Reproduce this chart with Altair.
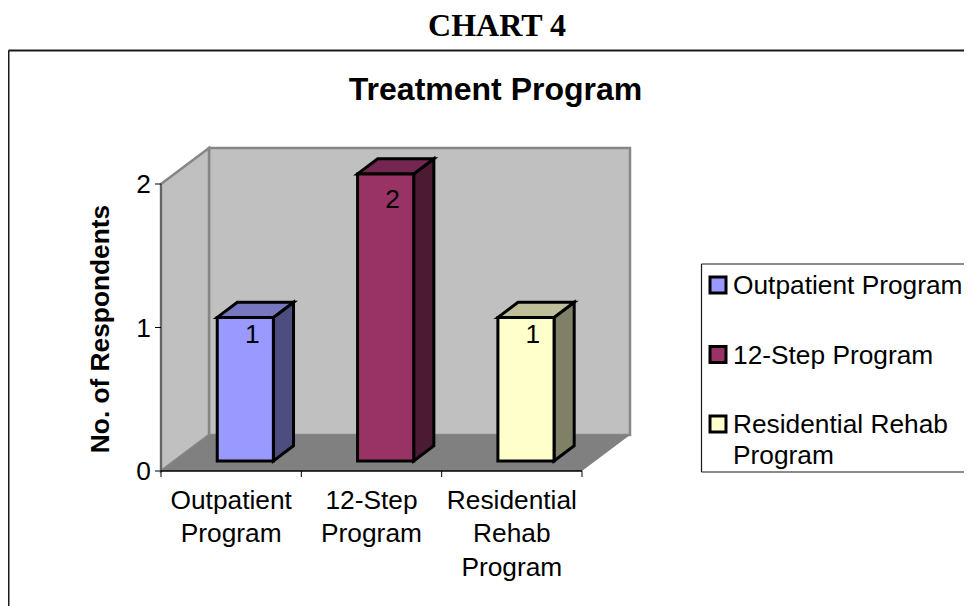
import altair as alt
import pandas as pd

categories = ["Outpatient Program", "12-Step Program", "Residential Rehab Program"]
values = [1, 2, 1]
front_colors = ["#9999FF", "#993366", "#FFFFCC"]
top_colors = ["#7777BF", "#732650", "#BFBF99"]
side_colors = ["#4D4D80", "#4D1A33", "#808066"]
axis_labels = [["Outpatient", "Program"], ["12-Step", "Program"], ["Residential", "Rehab", "Program"]]
legend_labels = [["Outpatient Program"], ["12-Step Program"], ["Residential Rehab", "Program"]]
y_ticks = [0, 1, 2]
main_title = "CHART 4"
chart_title = "Treatment Program"
y_title = "No. of Respondents"

# calibration of the two scales against the page
X0, CAT_W = 161.0, 140.33
Y0, UNIT_H = 471.0, 143.5
DX, DY = 48.0, 36.0
PAGE_R = 964
TEXT_SIZE = 26.3


def xd(px):
    return (px - X0) / CAT_W


def yd(py):
    return (Y0 - py) / UNIT_H


def pj(c, v, d=0.0):
    """category position, value, depth (0 front - 1 back) -> data coordinates"""
    return c + d * DX / CAT_W, v + d * DY / UNIT_H


SX = alt.Scale(domain=[xd(8), xd(PAGE_R)], nice=False, zero=False)
SY = alt.Scale(domain=[yd(606), yd(8)], nice=False, zero=False)
X = alt.X("x:Q", scale=SX, axis=None)
Y = alt.Y("y:Q", scale=SY, axis=None)
X2 = alt.X2("x2:Q")
Y2 = alt.Y2("y2:Q")
FILL = alt.Fill("fill:N", scale=None, legend=None)


def vquads(rows, **mk):
    # rows: list of (shape, fill, [(x, ytop, ybottom), ...])
    data = [dict(shape=s, fill=f, x=x, y=a, y2=b) for s, f, pts in rows for x, a, b in pts]
    return alt.Chart(pd.DataFrame(data)).mark_area(orient="vertical", **mk).encode(
        x=X, y=Y, y2=Y2, fill=FILL, detail="shape:N")


def hquads(rows, **mk):
    # rows: list of (shape, fill, [(y, xleft, xright), ...])
    data = [dict(shape=s, fill=f, y=y, x=a, x2=b) for s, f, pts in rows for y, a, b in pts]
    return alt.Chart(pd.DataFrame(data)).mark_area(orient="horizontal", **mk).encode(
        y=Y, x=X, x2=X2, fill=FILL, detail="shape:N")


def rules(rows, color, width):
    data = [dict(x=a, y=b, x2=c, y2=d) for a, b, c, d in rows]
    return alt.Chart(pd.DataFrame(data)).mark_rule(color=color, strokeWidth=width).encode(
        x=X, y=Y, x2=X2, y2=Y2)


def texts(rows, size, font="Liberation Sans", weight="normal", angle=0, align="center", dy=1):
    data = [dict(x=a, y=b, t=c) for a, b, c in rows]
    return alt.Chart(pd.DataFrame(data)).mark_text(
        fontSize=size, font=font, fontWeight=weight, angle=angle, align=align, dy=dy,
        baseline="middle", color="#000000").encode(x=X, y=Y, text="t:N")


n = len(categories)
vmax = max(y_ticks)

# walls and floor
_, bk_b = pj(0, 0, 1)
_, bk_t = pj(0, vmax, 1)
bk_l, _ = pj(0, 0, 1)
bk_r, _ = pj(n, 0, 1)
walls = vquads(
    [
        ("back", "#C0C0C0", [(bk_l, bk_t, bk_b), (bk_r, bk_t, bk_b)]),
        ("left", "#C0C0C0", [(0, vmax, 0), (bk_l, bk_t, bk_b)]),
    ],
    stroke="#868686", strokeWidth=2.5, strokeJoin="miter",
)
floor = hquads(
    [("floor", "#808080", [(0, 0, n), (pj(0, 0, 1)[1], bk_l, bk_r)])],
)

# bars
BAR_L, BAR_W = 0.305, 0.40
D0, D1 = 0.28, 0.70
sides, fronts, tops = [], [], []
for i, v in enumerate(values):
    cl = i + BAR_L
    cr = cl + BAR_W
    xl, yb = pj(cl, 0, D0)
    xr, yt = pj(cr, v, D0)
    xl2, yb2 = pj(cl, 0, D1)
    xr2, yt2 = pj(cr, v, D1)
    fronts.append((f"f{i}", front_colors[i], [(xl, yt, yb), (xr, yt, yb)]))
    sides.append((f"s{i}", side_colors[i], [(xr, yt, yb), (xr2, yt2, yb2)]))
    tops.append((f"t{i}", top_colors[i], [(yt, xl, xr), (yt2, xl2, xr2)]))
BAR_STYLE = dict(stroke="#000000", strokeWidth=3, strokeJoin="miter")
bars = [vquads(sides, **BAR_STYLE), hquads(tops, **BAR_STYLE), vquads(fronts, **BAR_STYLE)]

# axes
ticks = [(xd(X0 - 6), t, 0, t) for t in y_ticks] + [(i, yd(Y0 + 6), i, 0) for i in range(n + 1)]
axis_marks = rules([(0, 0, n, 0)], "#000000", 1.5)
y_line = rules([(0, 0, 0, vmax)], "#5A5A5A", 1.5)
tick_marks = rules(ticks, "#000000", 1)

ytick_text = texts([(xd(151), t, str(t)) for t in y_ticks], TEXT_SIZE, align="right")
LINE_Y = [499.5, 533, 566.5]
xtick_text = texts(
    [(i + 0.5, yd(LINE_Y[j]), s) for i, lines in enumerate(axis_labels) for j, s in enumerate(lines)], TEXT_SIZE)
LABEL_DROP = {1: 0.045, 2: 0.105}
value_text = texts([(i + 0.65, v - LABEL_DROP[v], str(v)) for i, v in enumerate(values)], TEXT_SIZE)

# titles
title_a = texts([(xd(497), yd(25), main_title)], 32, font="Liberation Serif", weight="bold")
title_b = texts([(xd(495.5), yd(89), chart_title)], 32, weight="bold")
title_y = texts([(xd(101), yd(329), y_title)], TEXT_SIZE, weight="bold", angle=270, dy=0)

# frame
FL, FT = 8.5, 50.5
frame = rules([(xd(FL), yd(FT), xd(PAGE_R), yd(FT)), (xd(FL), yd(FT), xd(FL), yd(606))], "#1A1A1A", 2)

# legend
LL, LT, LB = 701.5, 264, 472
legend_box = rules(
    [(xd(LL), yd(LT), xd(PAGE_R), yd(LT)), (xd(LL), yd(LB), xd(PAGE_R), yd(LB)), (xd(LL), yd(LT), xd(LL), yd(LB))],
    "#1A1A1A", 1.2,
)
ROW_Y = [285, 354.5, 424]
LINE_H = 31
legend_rows = [dict(x=xd(718), y=yd(ROW_Y[i]), fill=front_colors[i]) for i in range(n)]
legend_sym = alt.Chart(pd.DataFrame(legend_rows)).mark_point(
    shape="square", size=256, filled=True, stroke="#000000", strokeWidth=3, opacity=1
).encode(x=X, y=Y, fill=FILL)
legend_text = texts(
    [(xd(733), yd(ROW_Y[i] + j * LINE_H), s) for i, lines in enumerate(legend_labels) for j, s in enumerate(lines)],
    TEXT_SIZE, align="left",
)

chart = alt.layer(
    walls, floor, *bars, y_line, axis_marks, tick_marks, ytick_text, xtick_text, value_text,
    title_a, title_b, title_y, frame, legend_box, legend_sym, legend_text,
).properties(
    width=956, height=598, padding=0, autosize=alt.AutoSizeParams(type="none"),
).configure_view(stroke=None)

chart.save("out.html", embed_options={"renderer": "svg", "actions": False})
